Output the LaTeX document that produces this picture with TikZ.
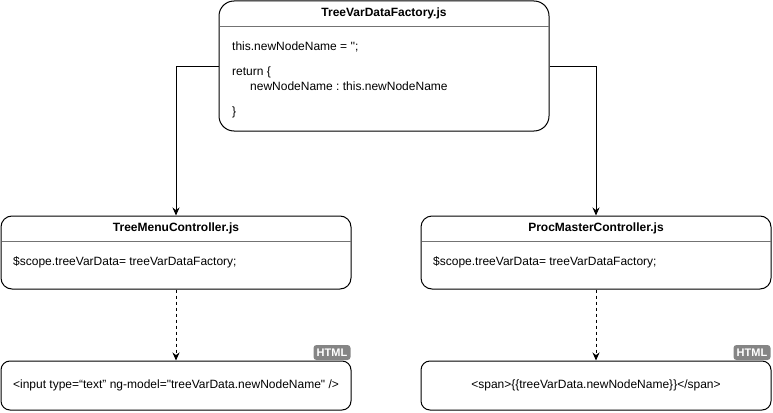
\documentclass[tikz,border=0pt]{standalone}
\usepackage{fontspec}
\newfontfamily\lsans{Liberation Sans}
\usetikzlibrary{arrows.meta}
\frenchspacing
\tikzset{
  box/.style={draw=black, line width=1pt, fill=white, inner sep=0pt},
  sep/.style={draw=black!55, line width=0.8pt},
  ttl/.style={font=\lsans\fontsize{12}{14}\selectfont\bfseries, inner sep=0pt},
  txt/.style={font=\lsans\fontsize{12}{14}\selectfont, inner sep=0pt, anchor=west},
  ctxt/.style={font=\lsans\fontsize{12}{14}\selectfont, inner sep=0pt},
  conn/.style={line width=1pt, -{Stealth[length=8pt,width=7pt]}},
  dconn/.style={conn, dashed, dash pattern=on 3pt off 3pt},
  badge/.style={fill=black!48, rounded corners=3pt, text=white, inner sep=0pt, minimum width=37pt, minimum height=15pt, font=\lsans\fontsize{11}{12}\selectfont\bfseries}
}
\begin{document}
\begin{tikzpicture}[x=1pt,y=-1pt]
\useasboundingbox (0,0) rectangle (773,412);
% top box
\node[box, rounded corners=15pt, minimum width=330pt, minimum height=130pt] (fac) at (384,66) {};
\draw[sep] (219.5,26) -- (548.5,26);
\node[ttl] (facT) at (384,13) {TreeVarDataFactory.js};
\node[txt] (f1) at (232,47) {this.newNodeName = '';};
\node[txt] (f2) at (232,72) {return \{};
\node[txt] (f3) at (250,86) {newNodeName : this.newNodeName};
\node[txt] (f4) at (232,112) {\}};
% middle boxes
\node[box, rounded corners=11pt, minimum width=350pt, minimum height=73pt] (tmc) at (176,252.5) {};
\draw[sep] (1.5,241) -- (350.5,241);
\node[ttl] (tmcT) at (176,228) {TreeMenuController.js};
\node[txt] (tmc1) at (13,262) {\$scope.treeVarData= treeVarDataFactory;};
\node[box, rounded corners=11pt, minimum width=350pt, minimum height=73pt] (pmc) at (596,252.5) {};
\draw[sep] (421.5,241) -- (770.5,241);
\node[ttl] (pmcT) at (596,228) {ProcMasterController.js};
\node[txt] (pmc1) at (433,262) {\$scope.treeVarData= treeVarDataFactory;};
% bottom boxes
\node[box, rounded corners=9pt, minimum width=350pt, minimum height=49pt] (inp) at (176,385.5) {};
\node[ctxt] (inpT) at (176,385) {<input type=“text” ng-model="treeVarData.newNodeName" />};
\node[badge] (b1) at (332,352.5) {HTML};
\node[box, rounded corners=9pt, minimum width=350pt, minimum height=49pt] (spn) at (596,385.5) {};
\node[ctxt] (spnT) at (596,385) {<span>\{\{treeVarData.newNodeName\}\}</span>};
\node[badge] (b2) at (752,352.5) {HTML};
% connectors
\draw[conn] (fac.west) -| (tmc.north);
\draw[conn] (fac.east) -| (pmc.north);
\draw[dconn] (tmc.south) -- (inp.north);
\draw[dconn] (pmc.south) -- (spn.north);
\end{tikzpicture}
\end{document}
